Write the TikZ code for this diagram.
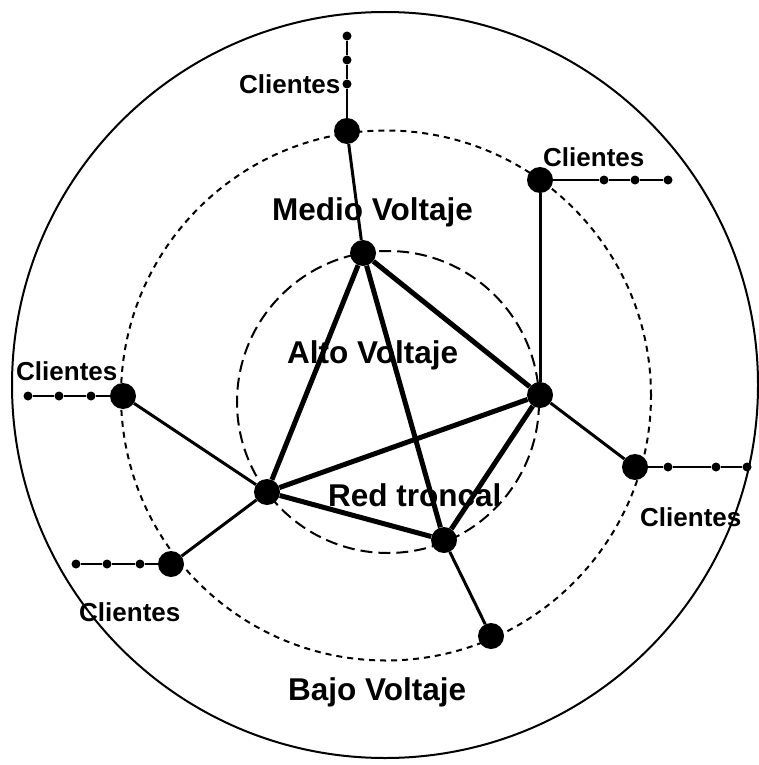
\documentclass[tikz,border=0pt]{standalone}
\usepackage{fontspec}
\setmainfont{Liberation Sans}
\begin{document}
\begin{tikzpicture}[x=1pt,y=-1pt,
  hub/.style={circle,fill=black,inner sep=0pt,minimum size=26pt},
  client/.style={circle,fill=black,inner sep=0pt,minimum size=9pt},
  trunk/.style={line width=5pt},
  feeder/.style={line width=3pt},
  drop/.style={line width=2pt},
  zone/.style={font=\bfseries\fontsize{31.5}{36}\selectfont,inner sep=0pt,anchor=base west},
  tag/.style={font=\bfseries\fontsize{26}{30}\selectfont,inner sep=0pt,anchor=base west}]
\useasboundingbox (0,0) rectangle (758,765);

% voltage rings
\draw[line width=2pt] (385,385) circle[radius=373pt];
\draw[line width=2pt,dash pattern=on 6pt off 5pt] (386,395.5) circle[radius=265pt];
\draw[line width=2pt,dash pattern=on 12pt off 6pt] (388,402) circle[radius=151pt];

% ring labels
\node[zone] (lmedio) at (272,220) {Medio Voltaje};
\node[zone] (lalto) at (287,363) {Alto Voltaje};
\node[zone] (lred) at (328,506) {Red troncal};
\node[zone] (lbajo) at (288,700) {Bajo Voltaje};

% customer labels
\node[tag] (c1) at (239,94) {Clientes};
\node[tag] (c2) at (543,166) {Clientes};
\node[tag] (c3) at (16,380) {Clientes};
\node[tag] (c4) at (640,526) {Clientes};
\node[tag] (c5) at (79,621) {Clientes};

% backbone substations
\node[hub] (b) at (363,253) {};
\node[hub] (d) at (540,395) {};
\node[hub] (f) at (444,540) {};
\node[hub] (h) at (267,492) {};

% medium-voltage substations
\node[hub] (a) at (347,131) {};
\node[hub] (c) at (540,180) {};
\node[hub] (e) at (635,467) {};
\node[hub] (g) at (491,636) {};
\node[hub] (i) at (123,396) {};
\node[hub] (j) at (171,564) {};

% customers
\node[client] (a1) at (347,84) {};
\node[client] (a2) at (347,60) {};
\node[client] (a3) at (347,36) {};
\node[client] (c1d) at (604,180) {};
\node[client] (c2d) at (635,180) {};
\node[client] (c3d) at (668,180) {};
\node[client] (i1) at (91,396) {};
\node[client] (i2) at (59,396) {};
\node[client] (i3) at (28,396) {};
\node[client] (e1) at (668,467) {};
\node[client] (e2) at (716,467) {};
\node[client] (e3) at (747,467) {};
\node[client] (j1) at (140,564) {};
\node[client] (j2) at (107,564) {};
\node[client] (j3) at (76,564) {};

% backbone
\draw[trunk] (b) -- (h);
\draw[trunk] (b) -- (f);
\draw[trunk] (b) -- (d);
\draw[trunk] (h) -- (d);
\draw[trunk] (h) -- (f);
\draw[trunk] (f) -- (d);

% feeders
\draw[feeder] (a) -- (b);
\draw[feeder] (c) -- (d);
\draw[feeder] (d) -- (e);
\draw[feeder] (f) -- (g);
\draw[feeder] (h) -- (i);
\draw[feeder] (h) -- (j);

% customer drops
\draw[drop] (a) -- (a1) -- (a2) -- (a3);
\draw[drop] (c) -- (c1d) -- (c2d) -- (c3d);
\draw[drop] (i) -- (i1) -- (i2) -- (i3);
\draw[drop] (e) -- (e1) -- (e2) -- (e3);
\draw[drop] (j) -- (j1) -- (j2) -- (j3);
\end{tikzpicture}
\end{document}
